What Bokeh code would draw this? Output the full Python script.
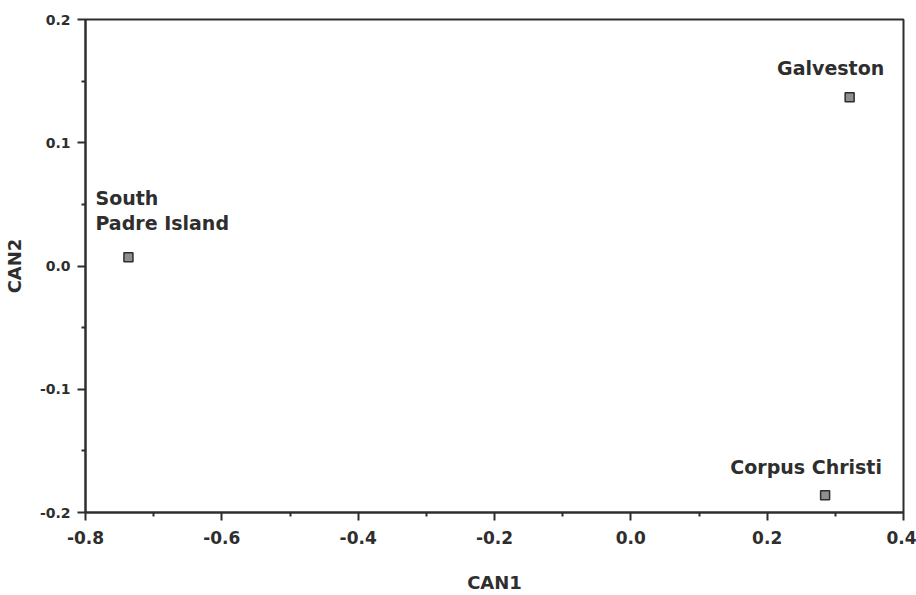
from bokeh.plotting import figure
from bokeh.models import ColumnDataSource, FixedTicker, Range1d
from bokeh.core.properties import value
from bokeh.embed import file_html
from bokeh.resources import INLINE

# ---- data ----
sites = ["South\nPadre Island", "Galveston", "Corpus Christi"]
can1 = [-0.737, 0.321, 0.285]
can2 = [0.007, 0.137, -0.186]

x_ticks = [-0.8, -0.6, -0.4, -0.2, 0.0, 0.2, 0.4]
x_tick_labels = ["-0.8", "-0.6", "-0.4", "-0.2", "0.0", "0.2", "0.4"]
y_ticks = [-0.2, -0.1, 0.0, 0.1, 0.2]
y_tick_labels = ["-0.2", "-0.1", "0.0", "0.1", "0.2"]
x_minor = [-0.7, -0.5, -0.3, -0.1, 0.1, 0.3]
y_minor = [-0.15, -0.05, 0.05, 0.15]

# ---- label styling (screen offsets) ----
label_align = ["left", "center", "center"]
label_dx = [-33, -19, -19]
label_dy = [-47, -29, -28]

FONT = "DejaVu Sans"
INK = "#2e2e2e"

p = figure(width=916, height=595, output_backend="svg", toolbar_location=None,
           x_range=Range1d(-0.8, 0.4), y_range=Range1d(-0.2, 0.2),
           min_border_left=0, min_border_right=13, min_border_top=19,
           min_border_bottom=83)
p.grid.visible = False
p.background_fill_color = "white"
p.border_fill_color = "white"
p.outline_line_color = INK
p.outline_line_width = 2

p.xaxis.ticker = FixedTicker(ticks=x_ticks, minor_ticks=x_minor)
p.yaxis.ticker = FixedTicker(ticks=y_ticks, minor_ticks=y_minor)
p.xaxis.major_label_overrides = dict(zip(x_ticks, x_tick_labels))
p.yaxis.major_label_overrides = dict(zip(y_ticks, y_tick_labels))

for ax in (p.xaxis[0], p.yaxis[0]):
    ax.axis_line_color = INK
    ax.axis_line_width = 2
    ax.major_tick_line_color = INK
    ax.major_tick_line_width = 2
    ax.minor_tick_line_color = INK
    ax.minor_tick_line_width = 2
    ax.major_tick_out = 8
    ax.major_tick_in = 0
    ax.minor_tick_out = 4
    ax.minor_tick_in = 0
    ax.major_label_text_font = FONT
    ax.major_label_text_font_style = "bold"
    ax.major_label_text_color = INK
    ax.axis_label_text_font = FONT
    ax.axis_label_text_font_style = "bold"
    ax.axis_label_text_color = INK
    ax.axis_label_text_font_size = "18px"

p.xaxis.axis_label = "CAN1"
p.yaxis.axis_label = "CAN2"
p.xaxis.major_label_text_font_size = "17px"
p.yaxis.major_label_text_font_size = "14px"
p.xaxis.major_label_standoff = 10
p.yaxis.major_label_standoff = 7
p.xaxis.axis_label_standoff = 25
p.yaxis.axis_label_standoff = 12

src = ColumnDataSource(dict(x=can1, y=can2, name=sites, align=label_align,
                            dx=label_dx, dy=label_dy))

p.scatter("x", "y", source=src, marker="square", size=9,
          fill_color="#8f8f8f", line_color=INK, line_width=1.5)

p.text("x", "y", text="name", source=src, text_align="align",
       text_baseline="alphabetic", x_offset="dx", y_offset="dy",
       text_font=value(FONT), text_font_style="bold", text_font_size="19px",
       text_color=INK, text_line_height=1.15)

open("out.html", "w").write(file_html(p, INLINE))
